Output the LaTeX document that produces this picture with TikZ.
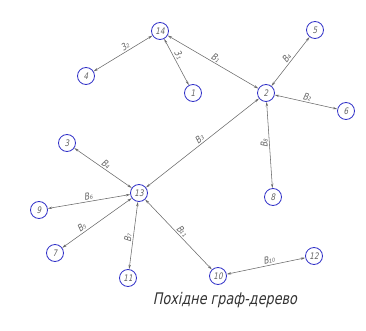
\documentclass[tikz,border=0pt]{standalone}
\usepackage{fontspec}
\newfontfamily\gost{DejaVu Sans}[FakeSlant=0.2,FakeStretch=0.8]
\usetikzlibrary{arrows.meta}
\definecolor{vblue}{RGB}{50,50,200}
\definecolor{lgray}{RGB}{100,100,100}
\definecolor{egray}{RGB}{105,105,105}
\begin{document}
\begin{tikzpicture}[x=1pt,y=-1pt,
  vert/.style={circle,draw=vblue,line width=0.8pt,minimum size=17pt,inner sep=0pt,
     font=\gost\fontsize{9}{9}\selectfont,text=lgray},
  edge/.style={draw=egray,line width=0.55pt,{Stealth[length=4.5pt,width=2.4pt]}-{Stealth[length=4.5pt,width=2.4pt]}},
  lab/.style={font=\gost\fontsize{9.5}{9.5}\selectfont,text=lgray,inner sep=1.5pt},
  slab/.style={lab,sloped}]
\useasboundingbox (0,0) rectangle (366,331);
\node[vert] (n14) at (160,31) {14};
\node[vert] (n4) at (86,76) {4};
\node[vert] (n1) at (193,93) {1};
\node[vert] (n2) at (266,93) {2};
\node[vert] (n5) at (315,30) {5};
\node[vert] (n6) at (346,111) {6};
\node[vert] (n8) at (273,197) {8};
\node[vert] (n3) at (67,143) {3};
\node[vert] (n13) at (139,193) {13};
\node[vert] (n9) at (39,210) {9};
\node[vert] (n7) at (55,253) {7};
\node[vert] (n11) at (128,278) {11};
\node[vert] (n10) at (218,276) {10};
\node[vert] (n12) at (314,256) {12};
\draw[edge] (n4) -- node[slab,above,pos=0.58] (l32) {3₂} (n14);
\draw[edge] (n14) -- node[slab,above,pos=0.4] (l31) {3₁} (n1);
\draw[edge] (n14) -- node[slab,above,pos=0.5] (lb1) {B₁} (n2);
\draw[edge] (n2) -- node[slab,above,pos=0.5] (lb4a) {B₄} (n5);
\draw[edge] (n2) -- node[slab,above,pos=0.5] (lb2) {B₂} (n6);
\draw[edge] (n8) -- node[lab,rotate=90,anchor=south,pos=0.52] (lb8) {B₈} (n2);
\draw[edge] (n13) -- node[slab,above,pos=0.5] (lb3) {B₃} (n2);
\draw[edge] (n3) -- node[slab,above,pos=0.5] (lb4b) {B₄} (n13);
\draw[edge] (n9) -- node[slab,above,pos=0.5] (lb6) {B₆} (n13);
\draw[edge] (n7) -- node[slab,above,pos=0.32] (lb5) {B₅} (n13);
\draw[edge] (n11) -- node[lab,rotate=83,anchor=south,pos=0.45] (lb7) {B₇} (n13);
\draw[edge] (n13) -- node[slab,above,pos=0.5] (lb11) {B₁₁} (n10);
\draw[edge] (n10) -- node[slab,above,pos=0.55] (lb10) {B₁₀} (n12);
\node[font=\gost\fontsize{16}{16}\selectfont,text=black!80] (cap) at (225,300) {Похідне граф-дерево};
\end{tikzpicture}
\end{document}
